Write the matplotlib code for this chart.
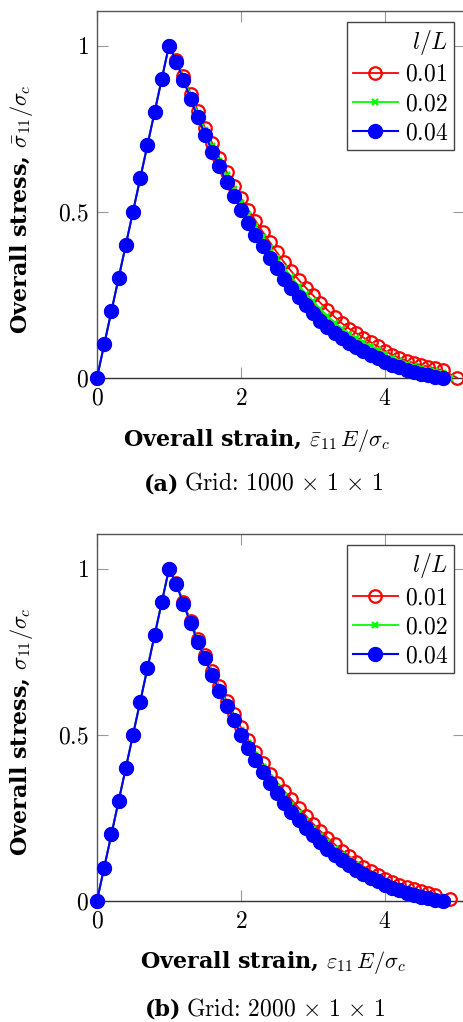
import matplotlib
matplotlib.use("Agg")
import matplotlib.pyplot as plt

plt.rcParams["mathtext.fontset"] = "cm"
plt.rcParams["font.family"] = "serif"
plt.rcParams["font.serif"] = ["cmr10", "DejaVu Serif"]

# ---- data ----
strain_load = [0.0, 0.1, 0.2, 0.3, 0.4, 0.5, 0.6, 0.7, 0.8, 0.9, 1.0]
stress_load = [0.0, 0.1, 0.2, 0.3, 0.4, 0.5, 0.6, 0.7, 0.8, 0.9, 1.0]

strain_soft = [1.1, 1.2, 1.3, 1.4, 1.5, 1.6, 1.7, 1.8, 1.9, 2.0,
               2.1, 2.2, 2.3, 2.4, 2.5, 2.6, 2.7, 2.8, 2.9, 3.0,
               3.1, 3.2, 3.3, 3.4, 3.5, 3.6, 3.7, 3.8, 3.9, 4.0,
               4.1, 4.2, 4.3, 4.4, 4.5, 4.6, 4.7, 4.8]

# (a) grid 1000 x 1 x 1
strain_a_001 = strain_load + strain_soft + [5.0]
stress_a_001 = stress_load + [0.958, 0.907, 0.855, 0.803, 0.752, 0.706, 0.662, 0.620, 0.578, 0.540,
                              0.505, 0.473, 0.440, 0.408, 0.377, 0.347, 0.320, 0.295, 0.271, 0.248,
                              0.226, 0.204, 0.183, 0.164, 0.148, 0.134, 0.121, 0.107, 0.094, 0.081,
                              0.069, 0.059, 0.051, 0.044, 0.038, 0.033, 0.028, 0.022, 0.0]
strain_a_002 = strain_load + strain_soft + [4.9]
stress_a_002 = stress_load + [0.956, 0.903, 0.849, 0.796, 0.745, 0.697, 0.653, 0.610, 0.567, 0.527,
                              0.491, 0.458, 0.425, 0.391, 0.360, 0.330, 0.303, 0.277, 0.253, 0.230,
                              0.207, 0.186, 0.166, 0.148, 0.133, 0.119, 0.106, 0.094, 0.082, 0.070,
                              0.059, 0.050, 0.042, 0.035, 0.029, 0.024, 0.019, 0.014, 0.0]
strain_a_004 = strain_load + strain_soft
stress_a_004 = stress_load + [0.952, 0.897, 0.839, 0.784, 0.732, 0.681, 0.636, 0.590, 0.547, 0.505,
                              0.467, 0.430, 0.396, 0.361, 0.329, 0.298, 0.271, 0.244, 0.219, 0.195,
                              0.172, 0.152, 0.135, 0.119, 0.105, 0.092, 0.080, 0.069, 0.058, 0.048,
                              0.039, 0.031, 0.024, 0.018, 0.012, 0.007, 0.003, 0.0]

# (b) grid 2000 x 1 x 1
strain_b_001 = strain_load + strain_soft[:-1] + [4.9]
stress_b_001 = stress_load + [0.957, 0.899, 0.843, 0.790, 0.741, 0.692, 0.646, 0.603, 0.562, 0.522,
                              0.485, 0.449, 0.415, 0.383, 0.356, 0.330, 0.305, 0.280, 0.256, 0.232,
                              0.210, 0.190, 0.170, 0.151, 0.134, 0.118, 0.103, 0.090, 0.077, 0.066,
                              0.056, 0.048, 0.042, 0.036, 0.030, 0.024, 0.018, 0.005]
strain_b_002 = strain_load + strain_soft
stress_b_002 = stress_load + [0.956, 0.897, 0.840, 0.786, 0.736, 0.687, 0.640, 0.596, 0.555, 0.513,
                              0.475, 0.438, 0.404, 0.371, 0.342, 0.315, 0.289, 0.264, 0.240, 0.217,
                              0.196, 0.176, 0.157, 0.139, 0.123, 0.108, 0.094, 0.081, 0.069, 0.058,
                              0.048, 0.040, 0.033, 0.027, 0.021, 0.015, 0.009, 0.0]
strain_b_004 = strain_load + strain_soft
stress_b_004 = stress_load + [0.955, 0.894, 0.836, 0.781, 0.730, 0.680, 0.632, 0.588, 0.545, 0.500,
                              0.461, 0.424, 0.389, 0.355, 0.324, 0.295, 0.268, 0.243, 0.219, 0.197,
                              0.176, 0.157, 0.139, 0.123, 0.108, 0.094, 0.081, 0.069, 0.058, 0.048,
                              0.039, 0.031, 0.024, 0.018, 0.012, 0.007, 0.003, 0.0]

legend_labels = ["$0.01$", "$0.02$", "$0.04$"]
xticks = [0, 2, 4]
xtick_labels = ["$0$", "$2$", "$4$"]
yticks = [0, 0.5, 1]
ytick_labels = ["$0$", "$0.5$", "$1$"]

FS = 17
BOLD = dict(family="DejaVu Serif", weight="bold", size=16)
W, H = 463, 1022
fig = plt.figure(figsize=(W / 100, H / 100), dpi=100)


def panel(rect, series, xlabel, ylabel, xlab_x, xlab_y):
    ax = fig.add_axes(rect)
    (x1, y1), (x2, y2), (x3, y3) = series
    ax.plot(x1, y1, color="red", lw=1.3, marker="o", ms=9, mfc="none", mew=1.6,
            clip_on=False, label=legend_labels[0], zorder=3)
    ax.plot(x2, y2, color="#00ff00", lw=1.3, marker="x", ms=5, mew=1.6,
            clip_on=False, label=legend_labels[1], zorder=4)
    ax.plot(x3, y3, color="blue", lw=1.5, marker="o", ms=10, mec="blue",
            clip_on=False, label=legend_labels[2], zorder=5)
    ax.set_xlim(0, 5.097)
    ax.set_ylim(0, 1.105)
    ax.set_xticks(xticks)
    ax.set_xticklabels(xtick_labels, fontsize=FS)
    ax.set_yticks(yticks)
    ax.set_yticklabels(ytick_labels, fontsize=FS)
    ax.tick_params(direction="in", length=8, width=0.8, color="#999999",
                   top=True, right=True)
    ax.tick_params(axis="x", pad=7)
    ax.tick_params(axis="y", pad=6)
    for s in ax.spines.values():
        s.set_color("#555555")
        s.set_linewidth(1.0)
    ax.spines["bottom"].set_color("#333333")
    ax.set_xlabel(xlabel, fontdict=BOLD)
    ax.set_ylabel(ylabel, fontdict=BOLD)
    ax.xaxis.set_label_coords(xlab_x, xlab_y)
    ax.yaxis.set_label_coords(-0.17, 0.46)
    leg = ax.legend(loc="upper right", bbox_to_anchor=(0.973, 0.970), borderaxespad=0,
                    fontsize=FS, title="$l/L$", title_fontsize=FS, numpoints=1,
                    handlelength=1.9, handletextpad=0.3, labelspacing=0.3,
                    borderpad=0.25, fancybox=False, framealpha=1,
                    edgecolor="#444444", alignment="right")
    leg.get_frame().set_linewidth(1.0)
    return ax


panel([97 / W, 644.3 / H, 367 / W, 367 / H],
      [(strain_a_001, stress_a_001), (strain_a_002, stress_a_002), (strain_a_004, stress_a_004)],
      r"Overall strain, $\bar{\varepsilon}_{11}\,E/\sigma_c$",
      r"Overall stress, $\bar{\sigma}_{11}/\sigma_c$",
      0.435, -0.135)
panel([97 / W, 121.3 / H, 367 / W, 366.7 / H],
      [(strain_b_001, stress_b_001), (strain_b_002, stress_b_002), (strain_b_004, stress_b_004)],
      r"Overall strain, $\varepsilon_{11}\,E/\sigma_c$",
      r"Overall stress, $\sigma_{11}/\sigma_c$",
      0.48, -0.133)

# sub-captions
fig.text(179 / W, 1 - 490 / H, "(a)", fontdict=BOLD, ha="right", va="baseline")
fig.text(184 / W, 1 - 490 / H, r"Grid: $1000\,\times\,1\,\times\,1$", fontsize=FS,
         ha="left", va="baseline")
fig.text(181 / W, 1 - 1015 / H, "(b)", fontdict=BOLD, ha="right", va="baseline")
fig.text(186 / W, 1 - 1015 / H, r"Grid: $2000\,\times\,1\,\times\,1$", fontsize=FS,
         ha="left", va="baseline")

fig.savefig("out.png", dpi=100)
